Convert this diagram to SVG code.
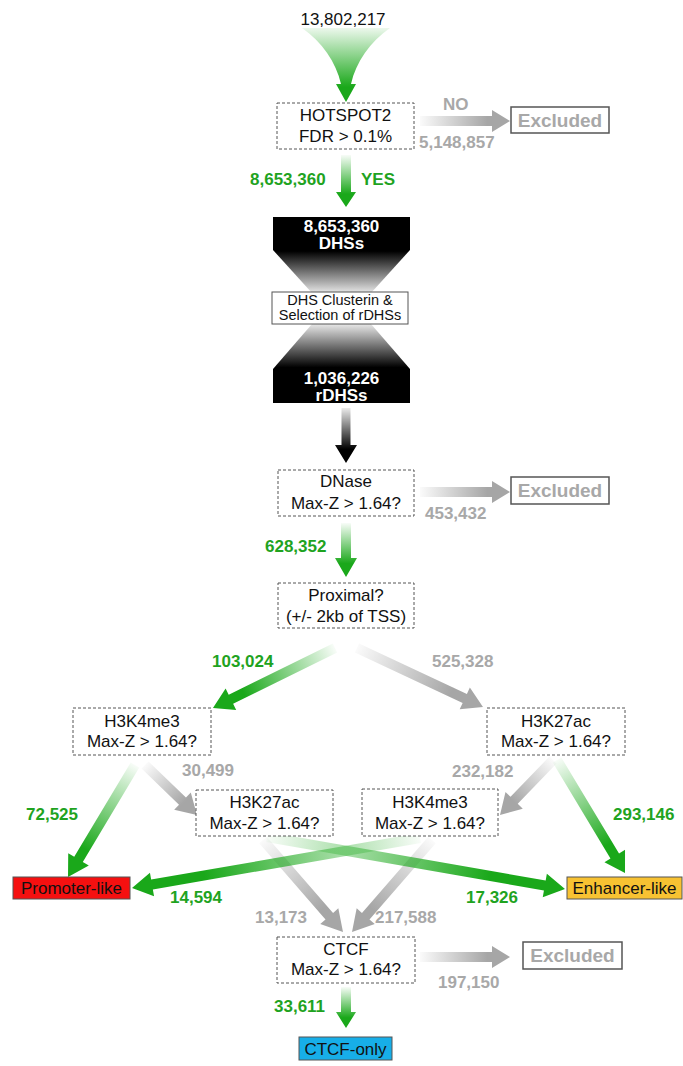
<svg xmlns="http://www.w3.org/2000/svg" width="683" height="1066" viewBox="0 0 683 1066">
<defs>
<style>
text{font-family:"Liberation Sans",Arial,Helvetica,sans-serif;}
.t{font-size:17px;fill:#111;text-anchor:middle;}
.s{font-size:14.5px;fill:#111;text-anchor:middle;}
.w{font-size:17px;fill:#fff;font-weight:bold;text-anchor:middle;}
.g{font-size:17px;fill:#1fa31f;font-weight:bold;}
.gr{font-size:17px;fill:#a8a8a8;font-weight:bold;}
.ex{font-size:19px;fill:#a8a8a8;font-weight:bold;text-anchor:middle;}
.box{fill:#fff;stroke:#555;stroke-width:1;stroke-dasharray:3,2;}
.exb{fill:#fff;stroke:#555;stroke-width:1.5;}
.ag{fill:url(#gG);}
.ay{fill:url(#gY);}
.ak{fill:url(#gK);}
</style>
<linearGradient id="gG" x1="0" y1="0" x2="1" y2="0">
<stop offset="0" stop-color="#1aa81a" stop-opacity="0.03"/>
<stop offset="0.75" stop-color="#1aa81a" stop-opacity="1"/>
<stop offset="1" stop-color="#1aa81a" stop-opacity="1"/>
</linearGradient>
<linearGradient id="gY" x1="0" y1="0" x2="1" y2="0">
<stop offset="0" stop-color="#a6a6a6" stop-opacity="0.05"/>
<stop offset="0.75" stop-color="#a6a6a6" stop-opacity="1"/>
<stop offset="1" stop-color="#a6a6a6" stop-opacity="1"/>
</linearGradient>
<linearGradient id="gK" x1="0" y1="0" x2="1" y2="0">
<stop offset="0" stop-color="#000" stop-opacity="0.08"/>
<stop offset="0.75" stop-color="#000" stop-opacity="1"/>
<stop offset="1" stop-color="#000" stop-opacity="1"/>
</linearGradient>
<linearGradient id="gF" x1="0" y1="0" x2="0" y2="1">
<stop offset="0" stop-color="#1aa81a" stop-opacity="0.08"/>
<stop offset="0.8" stop-color="#1aa81a" stop-opacity="1"/>
<stop offset="1" stop-color="#1aa81a" stop-opacity="1"/>
</linearGradient>
<linearGradient id="gTop" x1="0" y1="0" x2="0" y2="1">
<stop offset="0" stop-color="#000"/>
<stop offset="0.45" stop-color="#000"/>
<stop offset="1" stop-color="#e8e8e8"/>
</linearGradient>
<linearGradient id="gBot" x1="0" y1="0" x2="0" y2="1">
<stop offset="0" stop-color="#e8e8e8"/>
<stop offset="0.55" stop-color="#000"/>
<stop offset="1" stop-color="#000"/>
</linearGradient>
</defs>

<g id="connectors">
<path d="M302,28 L390,28 C370,42 356,62 351,84 L356,84 L346,102 L336,84 L341,84 C336,62 322,42 302,28 Z" fill="url(#gF)"/>
<path class="ay" transform="translate(420,121)" d="M0,-5 H72 V-11 L90,0 L72,11 V5 H0 Z"/>
<path class="ag" transform="translate(346,155) rotate(90)" d="M0,-5 H37 V-10 L52,0 L37,10 V5 H0 Z"/>
<path class="ak" transform="translate(346,408) rotate(90)" d="M0,-4.5 H37 V-11 L55,0 L37,11 V4.5 H0 Z"/>
<path class="ay" transform="translate(420,492)" d="M0,-5 H72 V-11 L90,0 L72,11 V5 H0 Z"/>
<path class="ag" transform="translate(346,523) rotate(90)" d="M0,-5 H35 V-11 L54,0 L35,11 V5 H0 Z"/>
<path class="ay" transform="translate(357,648) rotate(25.09)" d="M0,-5 H119 V-12 L139.1,0 L119,12 V5 H0 Z"/>
<path class="ay" transform="translate(145,765) rotate(43.88)" d="M0,-5 H52 V-12 L72.1,0 L52,12 V5 H0 Z"/>
<path class="ay" transform="translate(553,760) rotate(133.94)" d="M0,-5 H56 V-12 L76.4,0 L56,12 V5 H0 Z"/>
<path class="ay" transform="translate(263,840) rotate(48.99)" d="M0,-5 H101 V-12 L121.9,0 L101,12 V5 H0 Z"/>
<path class="ay" transform="translate(432,840) rotate(131.01)" d="M0,-5 H101 V-12 L121.9,0 L101,12 V5 H0 Z"/>
<path class="ay" transform="translate(420,957)" d="M0,-5 H72 V-11 L90,0 L72,11 V5 H0 Z"/>
<path class="ag" transform="translate(335,648) rotate(153.81)" d="M0,-5 H116 V-12 L136,0 L116,12 V5 H0 Z"/>
<path class="ag" transform="translate(135,765) rotate(120.89)" d="M0,-5 H110 V-12 L130.5,0 L110,12 V5 H0 Z"/>
<path class="ag" transform="translate(557,760) rotate(58.96)" d="M0,-5 H112 V-12 L131.9,0 L112,12 V5 H0 Z"/>
<path class="ag" transform="translate(420,838) rotate(170.15)" d="M0,-5 H272 V-12 L292.3,0 L272,12 V5 H0 Z"/>
<path class="ag" transform="translate(267,837) rotate(9.90)" d="M0,-5 H282 V-12 L302.5,0 L282,12 V5 H0 Z"/>
<path class="ag" transform="translate(346,987) rotate(90)" d="M0,-5 H25 V-10 L41,0 L25,10 V5 H0 Z"/>
</g>

<g id="labels">
<text class="t" x="343" y="25">13,802,217</text>
<text class="gr" x="443" y="110">NO</text>
<text class="gr" x="419" y="148">5,148,857</text>
<text class="g" x="250" y="185">8,653,360</text>
<text class="g" x="361" y="185">YES</text>
<text class="gr" x="425" y="519">453,432</text>
<text class="g" x="265" y="552">628,352</text>
<text class="g" x="212" y="667">103,024</text>
<text class="gr" x="432" y="667">525,328</text>
<text class="gr" x="182" y="776">30,499</text>
<text class="gr" x="452" y="777">232,182</text>
<text class="g" x="26" y="820">72,525</text>
<text class="g" x="613" y="820">293,146</text>
<text class="g" x="170" y="903">14,594</text>
<text class="g" x="466" y="903">17,326</text>
<text class="gr" x="255" y="923">13,173</text>
<text class="gr" x="375" y="923">217,588</text>
<text class="gr" x="438" y="988">197,150</text>
<text class="g" x="274" y="1012">33,611</text>
</g>

<g id="hotspot2">
<rect class="box" x="277" y="103" width="137" height="46"/>
<text class="t" x="345.5" y="121">HOTSPOT2</text>
<text class="t" x="345.5" y="142">FDR &gt; 0.1%</text>
</g>
<g id="excluded1">
<rect class="exb" x="511" y="107" width="98" height="26"/>
<text class="ex" x="560" y="127">Excluded</text>
</g>

<g id="dhs">
<path d="M273,217 H410 V250 L371,293 H312 L273,250 Z" fill="url(#gTop)"/>
<text class="w" x="341.5" y="232">8,653,360</text>
<text class="w" x="341.5" y="249">DHSs</text>
</g>
<g id="rdhs">
<path d="M312,324 H371 L410,369 V403 H273 V369 Z" fill="url(#gBot)"/>
<text class="w" x="341.5" y="384">1,036,226</text>
<text class="w" x="341.5" y="401">rDHSs</text>
</g>
<g id="clustering">
<rect x="272" y="292" width="136" height="32" fill="#fff" stroke="#555" stroke-width="1"/>
<text class="s" x="340" y="305">DHS Clusterin &amp;</text>
<text class="s" x="340" y="320">Selection of rDHSs</text>
</g>

<g id="dnase">
<rect class="box" x="278" y="470" width="136" height="46"/>
<text class="t" x="346" y="487">DNase</text>
<text class="t" x="346" y="509">Max-Z &gt; 1.64?</text>
</g>
<g id="excluded2">
<rect class="exb" x="511" y="477" width="98" height="27"/>
<text class="ex" x="560" y="497">Excluded</text>
</g>

<g id="proximal">
<rect class="box" x="278" y="583" width="136" height="45"/>
<text class="t" x="346" y="601">Proximal?</text>
<text class="t" x="346" y="622">(+/- 2kb of TSS)</text>
</g>

<g id="h3k4me3-left">
<rect class="box" x="73" y="708" width="138" height="47"/>
<text class="t" x="142" y="727">H3K4me3</text>
<text class="t" x="142" y="747">Max-Z &gt; 1.64?</text>
</g>
<g id="h3k27ac-right">
<rect class="box" x="487" y="708" width="138" height="47"/>
<text class="t" x="556" y="727">H3K27ac</text>
<text class="t" x="556" y="747">Max-Z &gt; 1.64?</text>
</g>
<g id="h3k27ac-mid">
<rect class="box" x="196" y="790" width="137" height="46"/>
<text class="t" x="264.5" y="808">H3K27ac</text>
<text class="t" x="264.5" y="829">Max-Z &gt; 1.64?</text>
</g>
<g id="h3k4me3-mid">
<rect class="box" x="362" y="789" width="136" height="47"/>
<text class="t" x="430" y="808">H3K4me3</text>
<text class="t" x="430" y="829">Max-Z &gt; 1.64?</text>
</g>

<g id="promoter">
<rect x="13" y="877" width="117" height="22" fill="#f51010" stroke="#555" stroke-width="1"/>
<text class="t" x="71.5" y="894">Promoter-like</text>
</g>
<g id="enhancer">
<rect x="567" y="877" width="115" height="22" fill="#f8c232" stroke="#555" stroke-width="1"/>
<text class="t" x="624.5" y="894">Enhancer-like</text>
</g>

<g id="ctcf">
<rect class="box" x="277" y="937" width="138" height="46"/>
<text class="t" x="346" y="955">CTCF</text>
<text class="t" x="346" y="975">Max-Z &gt; 1.64?</text>
</g>
<g id="excluded3">
<rect class="exb" x="523" y="942" width="99" height="27"/>
<text class="ex" x="572.5" y="962">Excluded</text>
</g>
<g id="ctcf-only">
<rect x="299" y="1037" width="93" height="23" fill="#17aee8" stroke="#555" stroke-width="1"/>
<text class="t" x="345.5" y="1055">CTCF-only</text>
</g>
</svg>
